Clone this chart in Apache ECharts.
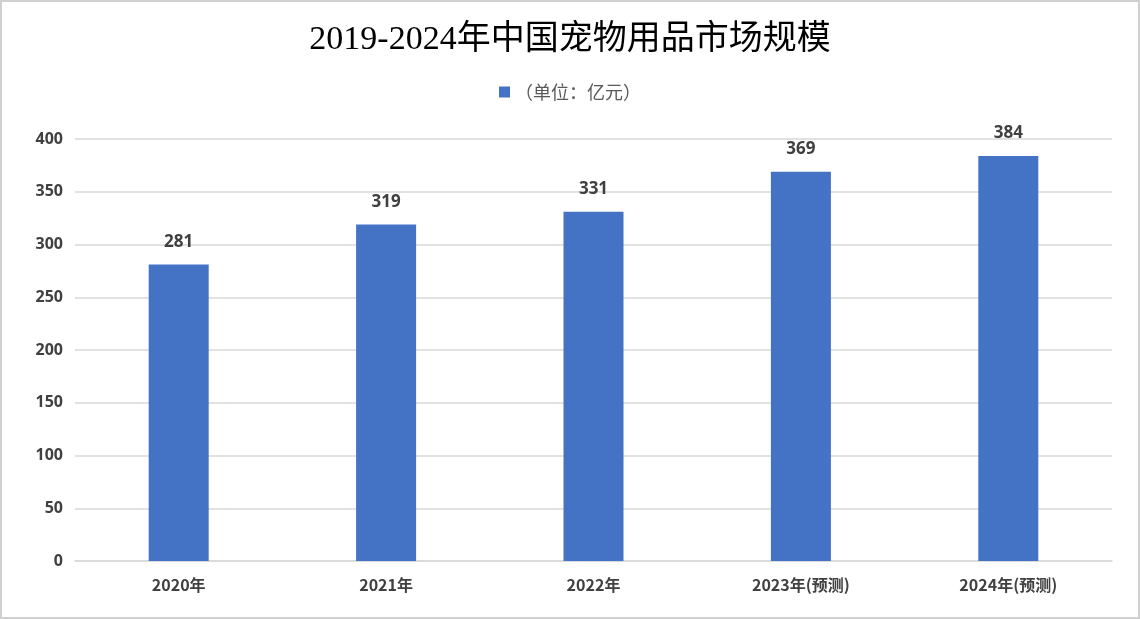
<!DOCTYPE html>
<html><head><meta charset="utf-8">
<script src="https://cdn.jsdelivr.net/npm/echarts@6/dist/echarts.min.js"></script>
<style>html,body{margin:0;padding:0;background:#fff}#c{width:1140px;height:619px;box-sizing:border-box;border:2px solid #d0d0d0}</style>
</head><body><div id="c"></div>
<script>
const categories = ['2020年','2021年','2022年','2023年(预测)','2024年(预测)'];
const values = [281,319,331,369,384];
const seriesName = '（单位：亿元）';
const chart = echarts.init(document.getElementById('c'));
chart.setOption({
  animation:false,
  title:{text:'2019-2024年中国宠物用品市场规模',left:'center',top:16,
    textStyle:{fontFamily:'"Liberation Serif","DejaVu Serif","Noto Sans CJK SC",serif',fontSize:34,fontWeight:'normal',color:'#000'}},
  legend:{data:[seriesName],top:76,left:'center',itemWidth:11,itemHeight:11,icon:'rect',itemGap:10,
    textStyle:{fontSize:18,color:'#595959',fontFamily:'"Noto Sans CJK SC",sans-serif'}},
  grid:{left:73,right:26,top:137,bottom:56},
  xAxis:{type:'category',data:categories,
    axisLine:{lineStyle:{color:'#d9d9d9',width:1.5}},axisTick:{show:false},
    axisLabel:{color:'#404040',fontWeight:'bold',fontSize:16,margin:16,fontFamily:'"Noto Sans CJK SC",sans-serif'}},
  yAxis:{type:'value',min:0,max:400,interval:50,
    axisLine:{show:false},axisTick:{show:false},
    splitLine:{lineStyle:{color:'#d9d9d9',width:1.5}},
    axisLabel:{color:'#404040',fontWeight:'bold',fontSize:16,margin:12,fontFamily:'"Open Sans","Noto Sans",sans-serif'}},
  series:[{name:seriesName,type:'bar',data:values,barWidth:60,
    itemStyle:{color:'#4472C4'},
    label:{show:true,position:'top',distance:14,color:'#404040',fontWeight:'bold',fontSize:17,fontFamily:'"Open Sans","Noto Sans",sans-serif'}}]
});
</script></body></html>
